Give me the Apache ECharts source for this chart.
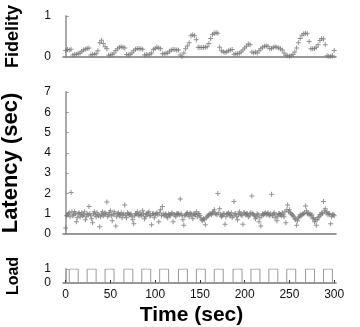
<!DOCTYPE html>
<html>
<head>
<meta charset="utf-8">
<script src="https://cdn.jsdelivr.net/npm/echarts@6/dist/echarts.min.js"></script>
<style>
  html, body { margin: 0; padding: 0; background: #fff; }
  #chart { width: 360px; height: 327px; }
</style>
</head>
<body>
<div id="chart"></div>
<script>
// Even sample times (sec): 0, 2, ..., 300
const times = [];
for (let t = 0; t <= 300; t += 2) times.push(t);
// Odd sample times (sec): 1, 3, ..., 299
const oddTimes = [];
for (let t = 1; t < 300; t += 2) oddTimes.push(t);

// Fidelity at the even sample times
const fidelity = [
  0.16, 0.18, 0.17, 0.19, 0.05, 0.06, 0.07, 0.08, 0.10, 0.14,
  0.17, 0.19, 0.21, 0.22, 0.05, 0.06, 0.07, 0.08, 0.15, 0.35,
  0.41, 0.33, 0.25, 0.20, 0.04, 0.05, 0.06, 0.10, 0.16, 0.20,
  0.24, 0.25, 0.24, 0.22, 0.06, 0.05, 0.07, 0.10, 0.15, 0.19,
  0.21, 0.20, 0.20, 0.19, 0.05, 0.06, 0.05, 0.07, 0.10, 0.18,
  0.21, 0.24, 0.22, 0.20, 0.08, 0.08, 0.09, 0.10, 0.14, 0.17,
  0.18, 0.18, 0.17, 0.17, 0.05, 0.01, 0.10, 0.20, 0.27, 0.35,
  0.52, 0.54, 0.52, 0.42, 0.24, 0.23, 0.23, 0.23, 0.24, 0.25,
  0.33, 0.45, 0.55, 0.58, 0.59, 0.58, 0.24, 0.15, 0.13, 0.11,
  0.13, 0.15, 0.17, 0.18, 0.07, 0.08, 0.08, 0.09, 0.12, 0.17,
  0.22, 0.26, 0.32, 0.30, 0.12, 0.10, 0.12, 0.10, 0.15, 0.20,
  0.24, 0.26, 0.27, 0.26, 0.20, 0.21, 0.24, 0.25, 0.24, 0.22,
  0.20, 0.17, 0.10, 0.04, 0.03, 0.02, 0.03, 0.06, 0.12, 0.22,
  0.35, 0.45, 0.53, 0.57, 0.58, 0.57, 0.38, 0.20, 0.20, 0.21,
  0.24, 0.30, 0.40, 0.45, 0.44, 0.30, 0.03, 0.02, 0.02, 0.03,
  0.16
];

// Latency (sec) at the even sample times
const latency = [
  0.30, 0.95, 1.05, 2.04, 0.90, 1.10, 0.60, 1.00, 0.85, 1.05,
  0.95, 0.70, 1.00, 1.35, 0.90, 0.55, 1.10, 0.85, 0.95, 0.36,
  1.00, 0.90, 1.05, 1.58, 0.95, 1.15, 0.65, 1.10, 0.40, 1.00,
  0.90, 1.05, 0.95, 1.43, 0.80, 1.00, 0.95, 0.85, 0.50, 1.00,
  1.10, 0.90, 0.95, 1.15, 0.75, 1.00, 1.05, 0.90, 0.45, 1.00,
  0.95, 1.05, 0.60, 1.20, 1.35, 0.90, 1.00, 0.80, 0.95, 1.00,
  0.60, 0.95, 1.00, 1.00, 1.72, 0.90, 0.43, 0.95, 1.05, 0.85,
  1.00, 0.75, 0.95, 1.10, 1.00, 0.90, 0.70, 0.75, 0.45, 0.85,
  0.95, 1.00, 1.05, 1.20, 0.98, 2.00, 1.25, 0.85, 1.00, 0.48,
  0.98, 1.05, 0.90, 0.80, 1.60, 1.00, 0.70, 1.10, 0.95, 0.48,
  1.05, 1.00, 0.85, 1.00, 1.87, 0.95, 0.75, 1.00, 0.60, 0.40,
  1.00, 1.00, 0.95, 1.05, 0.90, 1.96, 0.98, 0.80, 0.65, 1.00,
  0.95, 1.05, 0.85, 0.55, 1.43, 1.20, 1.00, 0.90, 0.75, 0.43,
  0.80, 0.95, 0.95, 1.00, 1.38, 1.00, 0.95, 0.90, 0.75, 0.60,
  0.43, 0.80, 0.95, 1.05, 1.60, 1.25, 1.10, 1.00, 0.50, 0.95,
  0.90
];

// Latency (sec) at the odd sample times
const latencyOdd = [
  0.90, 1.00, 0.85, 1.10, 0.95, 1.00, 0.80, 1.05, 0.95, 0.90,
  1.10, 0.85, 0.95, 1.00, 0.75, 1.00, 0.95, 1.05, 0.90, 0.85,
  1.10, 0.95, 1.00, 0.85, 1.05, 0.90, 0.95, 1.00, 0.85, 1.05,
  0.95, 0.80, 1.00, 0.90, 1.05, 0.95, 1.00, 0.70, 0.90, 1.00,
  0.95, 1.05, 0.90, 1.00, 0.85, 0.95, 1.10, 0.90, 1.00, 0.80,
  1.00, 0.95, 1.05, 0.90, 1.00, 0.95, 0.85, 1.00, 0.90, 1.05,
  0.95, 0.85, 1.00, 0.95, 1.00, 0.70, 0.90, 1.00, 0.95, 1.05,
  0.90, 1.00, 0.95, 0.85, 1.00, 0.80, 0.65, 0.70, 0.80, 0.90,
  1.00, 0.95, 1.10, 1.00, 0.95, 1.05, 0.95, 0.90, 1.00, 0.85,
  1.00, 0.95, 1.05, 0.90, 1.00, 0.85, 0.95, 1.00, 0.90, 1.05,
  0.95, 1.00, 0.90, 1.05, 1.00, 0.90, 0.85, 0.95, 0.80, 0.90,
  0.95, 1.05, 1.00, 0.95, 1.00, 0.90, 1.05, 0.95, 0.85, 1.00,
  0.90, 0.95, 1.10, 1.20, 1.10, 1.05, 0.95, 0.85, 0.70, 0.65,
  0.85, 0.90, 1.00, 1.05, 1.15, 1.05, 1.00, 0.95, 0.80, 0.70,
  0.70, 0.85, 0.95, 1.00, 1.15, 1.05, 0.95, 1.00, 0.85, 0.95
];

// Load switches on at each of these times (sec) and off at the matching one
const loadOn  = [4, 24, 44, 65, 85, 105, 126, 146, 166, 187, 207, 227, 247, 268, 288];
const loadOff = [14, 34, 54, 75, 95, 115, 136, 156, 176, 197, 217, 237, 257, 278, 298];

// Axis tick labels
const timeTicks = [0, 50, 100, 150, 200, 250, 300];
const fidelityTicks = [0, 1];
const latencyTicks = [0, 1, 2, 3, 4, 5, 6, 7];
const loadTicks = [0, 1];

const fidelityPts = times.map((t, i) => [t, fidelity[i]]);
const latencyPts = times.map((t, i) => [t, latency[i]])
  .concat(oddTimes.map((t, i) => [t, latencyOdd[i]]));
const loadPts = [[-3, 0]];
loadOn.forEach((t, i) => { loadPts.push([t, 1]); loadPts.push([loadOff[i], 0]); });
loadPts.push([302, 0]);

const PLUS = 'path://M0,2H5V3H0Z M2,0H3V5H2Z';
const FONT = 'Liberation Sans, Arial, Helvetica, sans-serif';

function xAxis(grid, showLabels) {
  return {
    type: 'value', gridIndex: grid, min: -3, max: 302,
    axisLine: { show: true, lineStyle: { color: '#777', width: 1.5 } },
    axisTick: showLabels
      ? { show: true, inside: true, length: 3, customValues: timeTicks, lineStyle: { color: '#333' } }
      : { show: false },
    axisLabel: showLabels
      ? { show: true, customValues: timeTicks, color: '#111', fontSize: 12, fontFamily: FONT, margin: 6 }
      : { show: false },
    splitLine: { show: false },
    name: showLabels ? 'Time (sec)' : '',
    nameLocation: 'middle', nameGap: 22,
    nameTextStyle: {
      fontSize: 21, fontWeight: 'bold', color: '#000', fontFamily: FONT,
      padding: [0, 16, 0, 0]
    }
  };
}

function yAxis(grid, max, ticks, name, nameSize, nameGap) {
  return {
    type: 'value', gridIndex: grid, min: 0, max: max, interval: 1,
    axisLine: { show: true, lineStyle: { color: '#aaa', width: 2 } },
    axisTick: { show: true, inside: true, length: 3, customValues: ticks, lineStyle: { color: '#999' } },
    axisLabel: {
      show: true, customValues: ticks, showMinLabel: true, showMaxLabel: true,
      hideOverlap: false,
      color: '#111', fontSize: 12, fontFamily: FONT, margin: 12
    },
    splitLine: { show: false },
    name: name, nameLocation: 'middle', nameRotate: 90, nameGap: nameGap,
    nameTextStyle: { fontSize: nameSize, fontWeight: 'bold', color: '#000', fontFamily: FONT }
  };
}

const gridBase = { left: 63, right: 24, outerBoundsMode: 'none', containLabel: false };

const chart = echarts.init(document.getElementById('chart'), null, { renderer: 'canvas' });
chart.setOption({
  animation: false,
  backgroundColor: '#fff',
  grid: [
    Object.assign({ top: 16, height: 41 }, gridBase),
    Object.assign({ top: 92, height: 142 }, gridBase),
    Object.assign({ top: 269, height: 14 }, gridBase)
  ],
  xAxis: [xAxis(0, false), xAxis(1, false), xAxis(2, true)],
  yAxis: [
    yAxis(0, 1, fidelityTicks, 'Fidelity', 18, 41),
    yAxis(1, 7, latencyTicks, 'Latency (sec)', 22, 41),
    yAxis(2, 1, loadTicks, 'Load', 16, 41)
  ],
  series: [
    {
      name: 'Fidelity', type: 'scatter', xAxisIndex: 0, yAxisIndex: 0,
      data: fidelityPts, symbol: PLUS, symbolSize: 5,
      itemStyle: { color: '#777' }
    },
    {
      name: 'Latency', type: 'scatter', xAxisIndex: 1, yAxisIndex: 1,
      data: latencyPts, symbol: PLUS, symbolSize: 5,
      itemStyle: { color: '#777' }
    },
    {
      name: 'Load', type: 'line', xAxisIndex: 2, yAxisIndex: 2,
      data: loadPts, step: 'end', showSymbol: false,
      lineStyle: { color: '#999', width: 1 }
    }
  ]
});
</script>
</body>
</html>
